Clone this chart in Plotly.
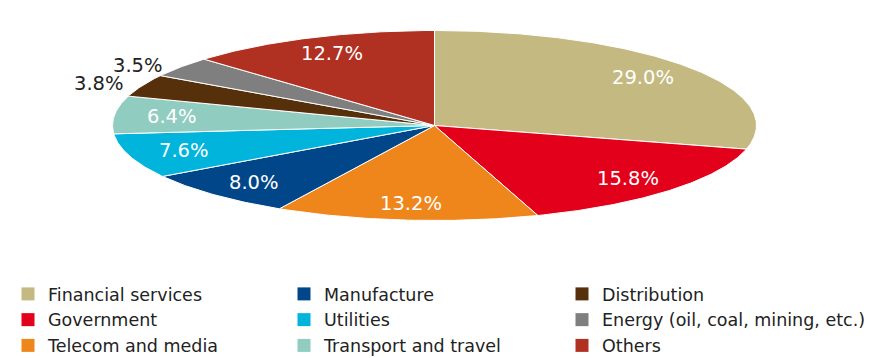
import numpy as np
import plotly.graph_objects as go

# Sector shares (%), clockwise from 12 o'clock
sectors = ["Financial services", "Government", "Telecom and media", "Manufacture",
           "Utilities", "Transport and travel", "Distribution",
           "Energy (oil, coal, mining, etc.)", "Others"]
shares = [29.0, 15.8, 13.2, 8.0, 7.6, 6.4, 3.8, 3.5, 12.7]
colors = ["#C5B982", "#E2001A", "#EE861B", "#02468A", "#00B4DC",
          "#91CCC1", "#56300A", "#7F7F7F", "#B03122"]

# Legend layout: three columns of three entries each
legend_rows = 3
legend_left_px = [8, 284, 562]

# Flattened pie geometry (pixel space of the 880x358 canvas)
W, H = 880, 358
CX, CY = 434.5, 125.5
RX, RY = 322.0, 95.0
LABEL_R = 0.82
OUTSIDE_LIMIT = 5.0
FONT = "DejaVu Sans"


def ellipse_point(theta, k=1.0):
    return CX + RX * k * np.sin(theta), CY - RY * k * np.cos(theta)


fig = go.Figure()

total = float(sum(shares))
start = 0.0
annotations = []
for i, (name, val, col) in enumerate(zip(sectors, shares, colors)):
    a0 = 2 * np.pi * start / total
    a1 = 2 * np.pi * (start + val) / total
    n = max(int(np.degrees(a1 - a0) * 2), 4)
    th = np.linspace(a0, a1, n)
    ex, ey = ellipse_point(th)
    xs = np.concatenate([[CX], ex, [CX]])
    ys = np.concatenate([[CY], ey, [CY]])
    fig.add_trace(go.Scatter(
        x=xs, y=ys, mode="lines", fill="toself", fillcolor=col,
        line=dict(color="white", width=1), hoverinfo="skip", showlegend=False))

    mid = (a0 + a1) / 2
    if val >= OUTSIDE_LIMIT:
        lx, ly = ellipse_point(mid, LABEL_R)
        annotations.append(dict(
            x=lx, y=ly, text=f"{val:.1f}%", showarrow=False,
            xanchor="center", yanchor="middle",
            font=dict(family=FONT, size=19.5, color="white")))
    else:
        lx, ly = ellipse_point(mid)
        annotations.append(dict(
            x=lx, y=ly, text=f"{val:.1f}%", showarrow=False,
            xanchor="right", yanchor="middle", xshift=-16, yshift=2,
            font=dict(family=FONT, size=19.5, color="#222222")))
    start += val

# Legend entries (square swatches), one legend per column
legend_ids = ["legend", "legend2", "legend3"]
for i, (name, col) in enumerate(zip(sectors, colors)):
    col_idx = i // legend_rows
    fig.add_trace(go.Scatter(
        x=[None], y=[None], mode="markers", name=name,
        marker=dict(symbol="square", size=13, color=col),
        legend=legend_ids[col_idx], showlegend=True))

legend_style = dict(
    orientation="v", xanchor="left", y=0.229, yanchor="top",
    font=dict(family=FONT, size=17.5, color="#222222"),
    bgcolor="rgba(0,0,0,0)",
    itemclick=False, itemdoubleclick=False, traceorder="normal")

fig.update_layout(
    width=W, height=H,
    margin=dict(l=0, r=0, t=0, b=0, autoexpand=False),
    paper_bgcolor="white", plot_bgcolor="white",
    xaxis=dict(range=[0, W], visible=False, fixedrange=True),
    yaxis=dict(range=[H, 0], visible=False, fixedrange=True),
    annotations=annotations,
    showlegend=True,
    legend=dict(x=legend_left_px[0] / W, **legend_style),
    legend2=dict(x=legend_left_px[1] / W, **legend_style),
    legend3=dict(x=legend_left_px[2] / W, **legend_style),
)

fig.write_html("out.html")
